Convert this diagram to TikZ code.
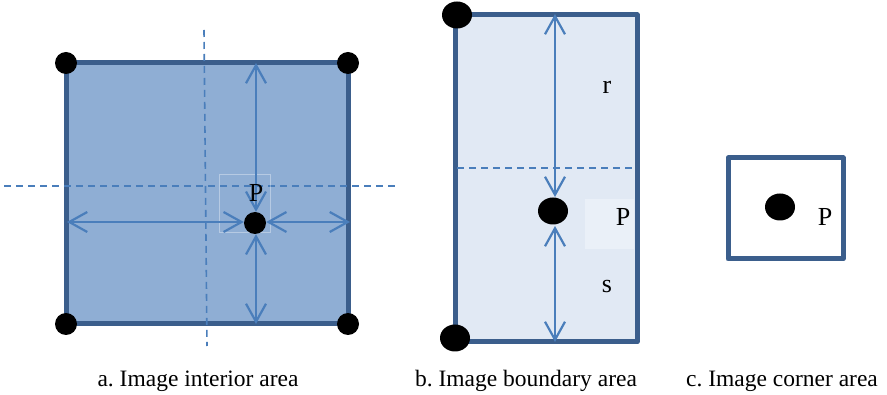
\documentclass[tikz,border=0pt]{standalone}
\usepackage{fontspec}
\setmainfont{Liberation Serif}
\usetikzlibrary{arrows.meta,shapes.geometric}
\definecolor{edgeblue}{RGB}{59,94,140}
\definecolor{fillA}{RGB}{143,174,212}
\definecolor{fillB}{RGB}{225,233,244}
\definecolor{lightbox}{RGB}{234,240,248}
\definecolor{arrowblue}{RGB}{74,126,187}
\tikzset{
  panel/.style={draw=edgeblue,line width=5pt,line join=round},
  dot/.style={ellipse,fill=black,inner sep=0pt},
  guide/.style={draw=arrowblue,line width=1.6pt,dash pattern=on 7pt off 5pt},
  barb/.style={Straight Barb[length=18pt,width=20pt,line width=2.2pt]},
  dimarrow/.style={draw=arrowblue,line width=2.5pt,{Straight Barb[length=18pt,width=20pt,line width=2.2pt]}-{Straight Barb[length=18pt,width=20pt,line width=2.2pt]}},
  lbl/.style={font=\rmfamily\fontsize{26}{28}\selectfont,inner sep=0pt},
  captext/.style={font=\rmfamily\fontsize{23.5}{26}\selectfont,inner sep=0pt,anchor=base}
}
\begin{document}
\frenchspacing
\begin{tikzpicture}[x=1pt,y=-1pt]
\useasboundingbox (0,0) rectangle (887,395);
% ---------- panel a ----------
\filldraw[panel,fill=fillA] (66,63) rectangle (348,324);
\draw[guide] (204,30) -- (207,346);
\draw[guide] (4,186) -- (398,186);
\draw[white,opacity=0.35,line width=0.6pt] (219,174) rectangle (270,232);
\node[dot,minimum width=22pt,minimum height=22pt] (pa) at (255,223) {};
\coordinate (atop) at (256,63);
\coordinate (abot) at (256,324);
\coordinate (aleft) at (67,222);
\coordinate (aright) at (350,222);
\draw[dimarrow] (atop) -- (pa.north -| atop);
\draw[dimarrow] (pa.south -| abot) -- (abot);
\draw[dimarrow] (aleft) -- (pa.west |- aleft);
\draw[dimarrow] (pa.east |- aright) -- (aright);
\node[lbl] (Pa) at (256,193) {P};
\node[dot,minimum width=22pt,minimum height=22pt] (a1) at (66,63) {};
\node[dot,minimum width=22pt,minimum height=22pt] (a2) at (348,63) {};
\node[dot,minimum width=22pt,minimum height=22pt] (a3) at (66,324) {};
\node[dot,minimum width=22pt,minimum height=22pt] (a4) at (348,324) {};
\node[captext] (capa) at (198,387) {a. Image interior area};
% ---------- panel b ----------
\filldraw[panel,fill=fillB] (455,15) rectangle (637,342);
\fill[lightbox] (585,199) rectangle (634,249);
\draw[guide] (457,168) -- (636,168);
\node[dot,minimum width=30pt,minimum height=27pt] (pb) at (553,211) {};
\coordinate (btop) at (555,14);
\coordinate (bbot) at (555,342);
\draw[dimarrow] (btop) -- (555,197);
\draw[dimarrow] (555,226) -- (bbot);
\node[lbl] (Pb) at (623,217) {P};
\node[lbl] (r) at (607,87) {r};
\node[lbl] (s) at (607,287) {s};
\node[dot,minimum width=30pt,minimum height=27pt] (b1) at (457,15) {};
\node[dot,minimum width=30pt,minimum height=27pt] (b2) at (455,338) {};
\node[captext] (capb) at (526,387) {b. Image boundary area};
% ---------- panel c ----------
\draw[panel,fill=white] (728,158) rectangle (843,259);
\node[dot,minimum width=30pt,minimum height=27pt] (pc) at (780,207) {};
\node[lbl] (Pc) at (825,217) {P};
\node[captext] (capc) at (782,387) {c. Image corner area};
\end{tikzpicture}
\end{document}
